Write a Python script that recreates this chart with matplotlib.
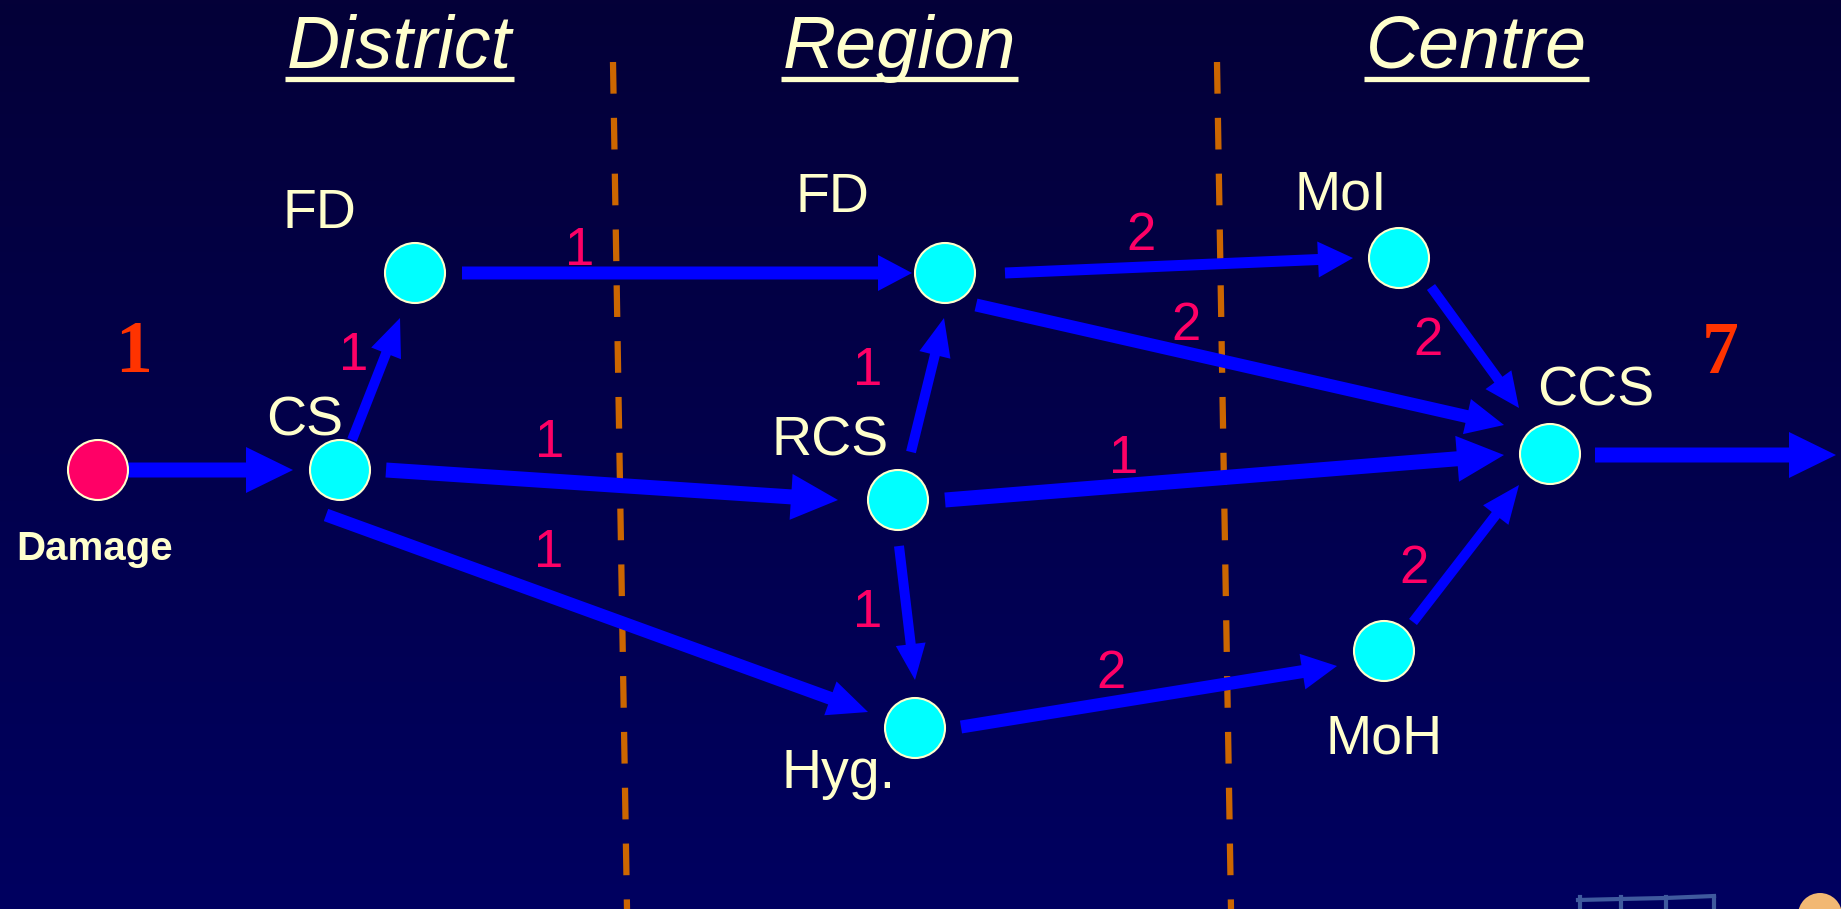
import numpy as np
import matplotlib
matplotlib.use("Agg")
import matplotlib.pyplot as plt
from matplotlib.patches import FancyArrow, Circle, Wedge

plt.rcParams['lines.scale_dashes'] = False

# ---------------- data ----------------
levels = ["District", "Region", "Centre"]
node_names = ["Damage", "CS", "FD_d", "FD_r", "RCS", "Hyg", "MoI", "MoH", "CCS"]
node_labels = ["Damage", "CS", "FD", "FD", "RCS", "Hyg.", "MoI", "MoH", "CCS"]
edge_src = ["Damage", "CS", "FD_d", "CS", "CS", "RCS", "RCS", "RCS", "FD_r", "FD_r", "MoI", "Hyg", "MoH", "CCS"]
edge_dst = ["CS", "FD_d", "FD_r", "RCS", "Hyg", "FD_r", "Hyg", "CCS", "MoI", "CCS", "CCS", "MoH", "CCS", "OUT"]
edge_weight = [None, 1, 1, 1, 1, 1, 1, 1, 2, 2, 2, 2, 2, None]
start_value = "1"
end_value = "7"

# ---------------- layout (pixels) ----------------
W, H = 1841, 909
node_pos = {"Damage": (98, 470), "CS": (340, 470), "FD_d": (415, 273), "FD_r": (945, 273),
            "RCS": (898, 500), "Hyg": (915, 728), "MoI": (1399, 258), "MoH": (1384, 651),
            "CCS": (1550, 454)}
label_pos = {"Damage": (95, 560), "CS": (305, 435), "FD_d": (319, 228), "FD_r": (832, 212),
             "RCS": (830, 455), "Hyg": (839, 788), "MoI": (1341, 210), "MoH": (1384, 753),
             "CCS": (1596, 405)}
# arrow tail, tip, shaft width, head width, head length
arrow_geom = [((128, 470), (293, 470), 15, 46, 47),
              ((352, 440), (400, 318), 10, 32, 38),
              ((462, 273), (912, 273), 13, 36, 34),
              ((386, 470), (838, 500), 15, 46, 47),
              ((326, 515), (868, 712), 13, 36, 40),
              ((911, 452), (944, 318), 10, 32, 38),
              ((899, 546), (915, 680), 10, 30, 36),
              ((945, 500), (1504, 455), 15, 46, 47),
              ((1005, 273), (1353, 258), 11, 36, 35),
              ((976, 305), (1504, 425), 13, 36, 38),
              ((1431, 287), (1519, 408), 10, 32, 35),
              ((961, 727), (1337, 666), 13, 36, 35),
              ((1413, 622), (1519, 485), 10, 32, 38),
              ((1595, 455), (1836, 455), 15, 46, 47)]
weight_pos = [None, (354, 370), (580, 265), (550, 457), (549, 567), (868, 385), (868, 627),
              (1124, 473), (1141, 250), (1186, 340), (1428, 355), (1111, 688), (1414, 583), None]
level_x = [287, 783, 1366]

CREAM = "#ffffcc"
CYAN = "#00ffff"
RED = "#ff0066"
BLUE = "#0000ff"
ORANGE = "#cc6600"
NUMRED = "#ff3300"

fig = plt.figure(figsize=(W / 100, H / 100), dpi=100)
ax = fig.add_axes([0, 0, 1, 1])
ax.set_xlim(0, W)
ax.set_ylim(H, 0)
ax.axis("off")

# background gradient
top = np.array([4, 0, 56]) / 255
bot = np.array([0, 0, 96]) / 255
t = np.linspace(0, 1, 256)[:, None]
grad = (top[None, :] * (1 - t) + bot[None, :] * t)[:, None, :]
ax.imshow(grad, extent=(0, W, H, 0), aspect="auto", zorder=0)

# dashed separators
for (x0, x1) in [(613, 627), (1217, 1231)]:
    ax.plot([x0, x1], [62, 909], color=ORANGE, lw=4.5, solid_capstyle="butt",
            dash_capstyle="butt", linestyle=(0, (22.8, 17.4)), zorder=1)

# level headings with underline
fig.canvas.draw()
renderer = fig.canvas.get_renderer()
for name, x in zip(levels, level_x):
    txt = ax.text(x, 68, name, color=CREAM, fontsize=53, fontstyle="italic",
                  family="Liberation Sans", ha="left", va="baseline", zorder=5)
    bb = txt.get_window_extent(renderer=renderer)
    x0 = bb.x0
    x1 = bb.x1
    ax.plot([x0 - 2, x1 + 2], [79, 79], color=CREAM, lw=3.8, solid_capstyle="butt", zorder=5)

# arrows
for (p0, p1, w, hw, hl) in arrow_geom:
    ax.add_patch(FancyArrow(p0[0], p0[1], p1[0] - p0[0], p1[1] - p0[1], width=w,
                            head_width=hw, head_length=hl, length_includes_head=True,
                            color=BLUE, lw=0, zorder=3))

# weights
for wgt, pos in zip(edge_weight, weight_pos):
    if wgt is None:
        continue
    ax.text(pos[0], pos[1], str(wgt), color=RED, fontsize=38, family="Liberation Sans",
            ha="center", va="baseline", zorder=5)

# nodes
for n, lab in zip(node_names, node_labels):
    cx, cy = node_pos[n]
    fc = RED if n == "Damage" else CYAN
    ax.add_patch(Circle((cx, cy), 30, facecolor=fc, edgecolor=CREAM, lw=1.5, zorder=4))
    lx, ly = label_pos[n]
    if n == "Damage":
        ax.text(lx, ly, lab, color=CREAM, fontsize=29, fontweight="bold",
                family="Liberation Sans", ha="center", va="baseline", zorder=5)
    else:
        ax.text(lx, ly, lab, color=CREAM, fontsize=40, family="Liberation Sans",
                ha="center", va="baseline", zorder=5)

# start / end totals
ax.text(134, 372, start_value, color=NUMRED, fontsize=53, fontweight="bold",
        family="Liberation Serif", ha="center", va="baseline", zorder=5)
ax.text(1720, 373, end_value, color=NUMRED, fontsize=53, fontweight="bold",
        family="Liberation Serif", ha="center", va="baseline", zorder=5)

# partial logos at bottom right
ax.plot([1578, 1620, 1665, 1714], [900, 899, 898, 896], color="#3f5a9e", lw=3, zorder=2)
for xx in [1580, 1621, 1666, 1714]:
    ax.plot([xx, xx], [897, 909], color="#3f5a9e", lw=3, zorder=2)
ax.add_patch(Wedge((1820, 915), 22, 180, 360, facecolor="#f2b873", edgecolor="none", zorder=2))

fig.savefig("out.png", dpi=100)
